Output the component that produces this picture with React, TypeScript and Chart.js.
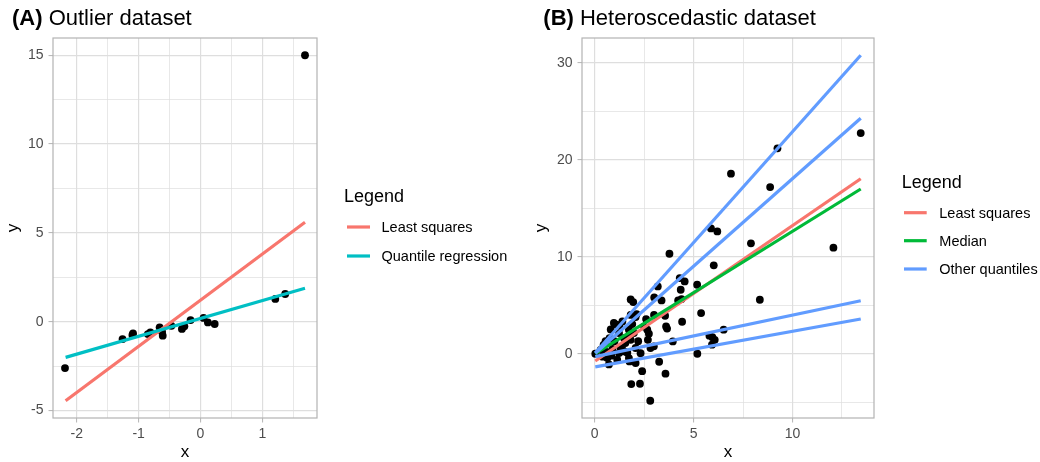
import React, { useEffect, useRef } from 'react';
import { Chart, registerables } from 'chart.js';
Chart.register(...registerables);

const FONT = '"Liberation Sans", Arial, Helvetica, sans-serif';

// ---------- Panel A: outlier dataset ----------
const outlierX = [-2.19, -1.26, -1.09, -1.1, -0.85, -0.81, -0.66, -0.61, -0.62, -0.47, -0.3, -0.26, -0.16, 0.05, 0.12, 0.23, 1.21, 1.37, 1.69];
const outlierY = [-2.61, -0.98, -0.66, -0.75, -0.7, -0.6, -0.32, -0.79, -0.58, -0.23, -0.41, -0.26, 0.09, 0.21, -0.04, -0.13, 1.28, 1.56, 15.0];
const fitXA = [-2.18, 1.69];
const lsFitA = [-4.45, 5.6];
const qrFitA = [-2.01, 1.88];
const xTicksA = [-2, -1.5, -1, -0.5, 0, 0.5, 1, 1.5];
const xMajorA = [-2, -1, 0, 1];
const yTicksA = [-5, -2.5, 0, 2.5, 5, 7.5, 10, 12.5, 15];
const yMajorA = [-5, 0, 5, 10, 15];
const legendLabelsA = ['Least squares', 'Quantile regression'];

// ---------- Panel B: heteroscedastic dataset ----------
const hetX = [0.03, 0.3, 0.45, 0.55, 0.6, 0.64, 0.72, 0.75, 0.81, 0.97, 1.11, 1.25, 1.4, 1.23, 1.23, 1.31, 1.48, 1.48, 1.14, 0.9, 1.0, 1.55, 1.72, 1.82, 1.73, 1.73, 1.76, 2.07, 1.82, 2.07, 1.82, 1.95, 1.98, 2.07, 2.32, 2.4, 1.85, 2.29, 2.81, 2.6, 2.66, 2.74, 2.69, 2.82, 2.99, 3.0, 3.01, 3.19, 3.38, 3.26, 3.58, 3.56, 3.61, 3.66, 3.95, 3.78, 4.22, 4.39, 4.3, 4.35, 4.55, 4.42, 5.18, 5.38, 5.19, 5.8, 5.93, 6.07, 6.52, 6.02, 5.88, 6.2, 6.89, 7.9, 8.35, 8.87, 9.24, 12.07, 13.45, 1.4, 1.65, 2.12, 1.9, 0.4, 0.85, 2.2, 2.5, 5.95];
const hetY = [0.0, 0.4, 0.9, 1.3, 0.2, -0.45, -1.1, 1.6, 2.5, 3.17, 3.0, 2.9, 3.33, 2.13, 0.07, 0.6, 0.24, 1.62, -0.62, 0.5, 1.3, 1.1, 1.77, 1.44, 2.48, -0.45, -0.79, -0.96, 4.0, 3.78, 5.6, 5.33, 2.13, 0.59, 0.05, -1.8, -3.13, -3.1, -4.85, 3.58, 2.48, 2.06, 1.44, 0.59, 0.76, 4.0, 5.81, 6.95, 5.5, -0.83, -2.06, 3.92, 2.82, 2.6, 1.27, 10.32, 5.5, 5.64, 7.81, 6.6, 7.46, 3.3, 7.12, 4.2, 0.0, 1.86, 0.93, 1.44, 2.48, 9.12, 12.93, 12.62, 18.58, 11.39, 5.57, 17.2, 21.2, 10.94, 22.77, 0.41, 0.1, 4.09, 3.06, -0.3, -0.2, 1.3, 2.8, 1.7];
const fitXB = [0.03, 13.45];
const lsFitB = [-0.75, 18.06];
const medFitB = [0.0, 17.0];
const q90FitB = [0.1, 30.8];
const q75FitB = [0.05, 24.3];
const q25FitB = [-0.3, 5.47];
const q10FitB = [-1.35, 3.58];
const xTicksB = [0, 2.5, 5, 7.5, 10, 12.5];
const xMajorB = [0, 5, 10];
const yTicksB = [-5, 0, 5, 10, 15, 20, 25, 30];
const yMajorB = [0, 10, 20, 30];
const legendLabelsB = ['Least squares', 'Median', 'Other quantiles'];

const RED = '#F8766D';
const CYAN = '#00BFC4';
const GREEN = '#00BA38';
const BLUE = '#619CFF';

function pts(xs: number[], ys: number[]) {
  return xs.map((x, i) => ({ x, y: ys[i] }));
}

function expand(values: number[]): [number, number] {
  const lo = Math.min(...values);
  const hi = Math.max(...values);
  const d = (hi - lo) * 0.05;
  return [lo - d, hi + d];
}

function lineDs(xs: number[], ys: number[], color: string) {
  return {
    data: pts(xs, ys),
    showLine: true,
    borderColor: color,
    backgroundColor: color,
    borderWidth: 3.2,
    pointRadius: 0,
    pointHoverRadius: 0,
  };
}

function axis(range: [number, number], ticks: number[], majors: number[], fit: (s: any) => void, padding: number) {
  const isMajor = (v: number) => majors.includes(v);
  return {
    type: 'linear',
    min: range[0],
    max: range[1],
    afterBuildTicks: (s: any) => {
      s.ticks = ticks.map((v) => ({ value: v }));
    },
    afterFit: fit,
    border: { display: false },
    grid: {
      color: '#dedede',
      lineWidth: (c: any) => (c.tick && isMajor(c.tick.value) ? 1.2 : 0.7),
      tickColor: (c: any) => (c.tick && isMajor(c.tick.value) ? '#b3b3b3' : 'rgba(0,0,0,0)'),
      tickLength: 4.5,
      tickWidth: 1,
      drawTicks: true,
    },
    ticks: {
      autoSkip: false,
      maxRotation: 0,
      minRotation: 0,
      padding,
      color: '#4d4d4d',
      font: { family: FONT, size: 14 },
      callback: (v: number) => (isMajor(v) ? String(v) : ''),
    },
  };
}

interface Decor {
  tag: string;
  title: string;
  titleX: number;
  titleY: number;
  xTitleY: number;
  yTitleX: number;
  legendX: number;
  legendTitleY: number;
  items: { label: string; color: string; y: number }[];
  keyX1: number;
  keyX2: number;
  textX: number;
}

function decorPlugin(d: Decor) {
  return {
    id: 'panelDecor',
    afterDraw(chart: any) {
      const { ctx, chartArea: a } = chart;
      ctx.save();
      ctx.strokeStyle = '#b3b3b3';
      ctx.lineWidth = 1.2;
      ctx.strokeRect(a.left, a.top, a.right - a.left, a.bottom - a.top);

      ctx.fillStyle = '#000';
      ctx.textAlign = 'left';
      ctx.textBaseline = 'alphabetic';
      ctx.font = `bold 22px ${FONT}`;
      ctx.fillText(d.tag, d.titleX, d.titleY);
      const w = ctx.measureText(d.tag).width;
      ctx.font = `22px ${FONT}`;
      ctx.fillText(' ' + d.title, d.titleX + w, d.titleY);

      ctx.font = `17px ${FONT}`;
      ctx.textAlign = 'center';
      ctx.fillText('x', (a.left + a.right) / 2, d.xTitleY);
      ctx.save();
      ctx.translate(d.yTitleX, (a.top + a.bottom) / 2);
      ctx.rotate(-Math.PI / 2);
      ctx.fillText('y', 0, 0);
      ctx.restore();

      ctx.textAlign = 'left';
      ctx.font = `18px ${FONT}`;
      ctx.fillText('Legend', d.legendX, d.legendTitleY);
      ctx.font = `14.5px ${FONT}`;
      d.items.forEach((it) => {
        ctx.strokeStyle = it.color;
        ctx.lineWidth = 3.2;
        ctx.beginPath();
        ctx.moveTo(d.keyX1, it.y);
        ctx.lineTo(d.keyX2, it.y);
        ctx.stroke();
        ctx.fillStyle = '#000';
        ctx.fillText(it.label, d.textX, it.y + 5.2);
      });
      ctx.restore();
    },
  };
}

function makeChart(
  canvas: HTMLCanvasElement,
  datasets: any[],
  xr: [number, number],
  yr: [number, number],
  xt: number[],
  xm: number[],
  yt: number[],
  ym: number[],
  yAxisWidth: number,
  rightPad: number,
  decor: Decor
) {
  return new Chart(canvas, {
    type: 'scatter',
    data: { datasets },
    options: {
      responsive: false,
      animation: false,
      devicePixelRatio: 1,
      layout: { padding: { left: 0, right: rightPad, top: 38, bottom: 0 } },
      plugins: { legend: { display: false }, title: { display: false }, tooltip: { enabled: false } },
      events: [],
      scales: {
        x: axis(xr, xt, xm, (s: any) => { s.height = 44; }, 3),
        y: axis(yr, yt, ym, (s: any) => { s.width = yAxisWidth; }, 5),
      } as any,
    },
    plugins: [decorPlugin(decor)],
  } as any);
}

export default function App() {
  const refA = useRef<HTMLCanvasElement>(null);
  const refB = useRef<HTMLCanvasElement>(null);

  useEffect(() => {
    const pointStyle = { pointRadius: 3.9, pointBackgroundColor: '#000', pointBorderWidth: 0, showLine: false };

    const dsA = [
      lineDs(fitXA, qrFitA, CYAN),
      lineDs(fitXA, lsFitA, RED),
      { data: pts(outlierX, outlierY), ...pointStyle },
    ];
    const xrA = expand([...outlierX, ...fitXA]);
    const yrA = expand([...outlierY, ...lsFitA, ...qrFitA]);
    const chartA = makeChart(refA.current!, dsA, xrA, yrA, xTicksA, xMajorA, yTicksA, yMajorA, 53, 203, {
      tag: '(A)', title: 'Outlier dataset', titleX: 12, titleY: 24.5,
      xTitleY: 457, yTitleX: 18,
      legendX: 344, legendTitleY: 201.7,
      items: [
        { label: legendLabelsA[0], color: RED, y: 227 },
        { label: legendLabelsA[1], color: CYAN, y: 256 },
      ],
      keyX1: 347, keyX2: 370, textX: 381.5,
    });

    const dsB = [
      lineDs(fitXB, q90FitB, BLUE),
      lineDs(fitXB, q75FitB, BLUE),
      lineDs(fitXB, q25FitB, BLUE),
      lineDs(fitXB, q10FitB, BLUE),
      lineDs(fitXB, medFitB, GREEN),
      lineDs(fitXB, lsFitB, RED),
      { data: pts(hetX, hetY), ...pointStyle },
    ];
    const xrB = expand([...hetX, ...fitXB]);
    const yrB = expand([...hetY, ...lsFitB, ...medFitB, ...q90FitB, ...q75FitB, ...q25FitB, ...q10FitB]);
    const chartB = makeChart(refB.current!, dsB, xrB, yrB, xTicksB, xMajorB, yTicksB, yMajorB, 62, 166, {
      tag: '(B)', title: 'Heteroscedastic dataset', titleX: 23.3, titleY: 24.5,
      xTitleY: 457, yTitleX: 26,
      legendX: 381.7, legendTitleY: 188.3,
      items: [
        { label: legendLabelsB[0], color: RED, y: 212.7 },
        { label: legendLabelsB[1], color: GREEN, y: 240.7 },
        { label: legendLabelsB[2], color: BLUE, y: 269 },
      ],
      keyX1: 384, keyX2: 406.7, textX: 419.3,
    });

    return () => {
      chartA.destroy();
      chartB.destroy();
    };
  }, []);

  return (
    <div style={{ position: 'absolute', left: 0, top: 0, width: 1040, height: 462, background: '#fff' }}>
      <canvas ref={refA} width={520} height={462} style={{ position: 'absolute', left: 0, top: 0, width: 520, height: 462 }} />
      <canvas ref={refB} width={520} height={462} style={{ position: 'absolute', left: 520, top: 0, width: 520, height: 462 }} />
    </div>
  );
}
